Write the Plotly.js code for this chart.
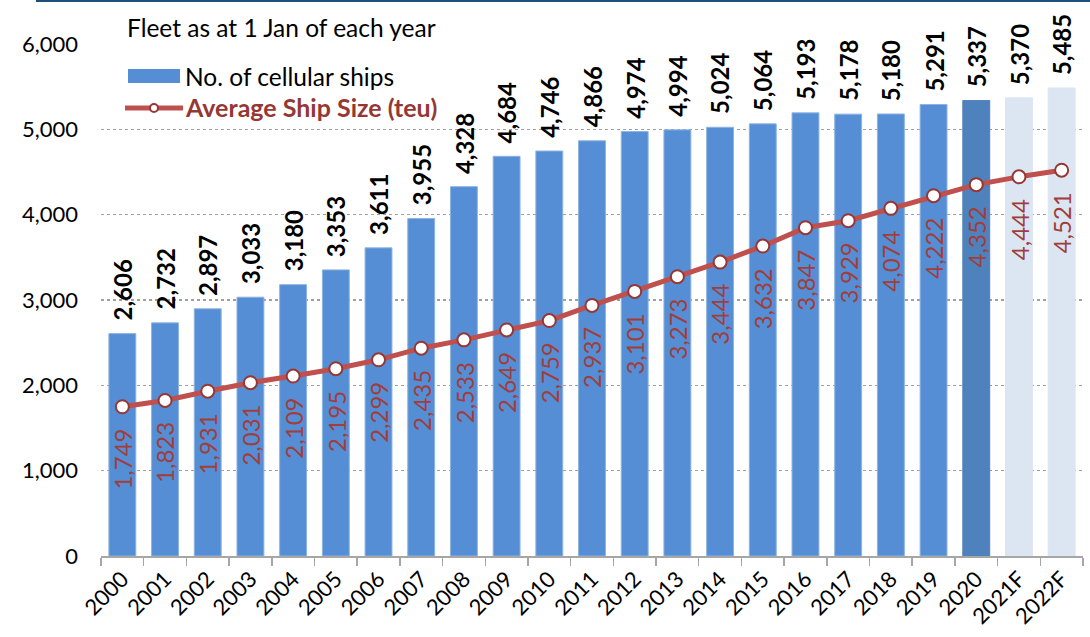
<!DOCTYPE html>
<html>
<head>
<meta charset="utf-8">
<script src="https://cdn.plot.ly/plotly-3.0.1.min.js"></script>
<style>
html,body{margin:0;padding:0;background:#fff;}
#chart{width:1090px;height:637px;}
</style>
</head>
<body>
<div id="chart"></div>
<script>
const years = ["2000","2001","2002","2003","2004","2005","2006","2007","2008","2009","2010","2011","2012","2013","2014","2015","2016","2017","2018","2019","2020","2021F","2022F"];
const ships = [2606,2732,2897,3033,3180,3353,3611,3955,4328,4684,4746,4866,4974,4994,5024,5064,5193,5178,5180,5291,5337,5370,5485];
const avgSize = [1749,1823,1931,2031,2109,2195,2299,2435,2533,2649,2759,2937,3101,3273,3444,3632,3847,3929,4074,4222,4352,4444,4521];
const yTicks = [0,1000,2000,3000,4000,5000,6000];
const yTickLabels = ["0","1,000","2,000","3,000","4,000","5,000","6,000"];
const subtitle = "Fleet as at 1 Jan of each year";
const legendBar = "No. of cellular ships";
const legendLine = "Average Ship Size (teu)";

const FONT = "Lato, 'Open Sans', sans-serif";
const fmt = v => v.toLocaleString('en-US');

const barColors = years.map(y => y.endsWith('F') ? '#DCE6F2' : (y === '2020' ? '#4F81BD' : '#558ED5'));
const barLines = years.map(y => y.endsWith('F') ? '#DCE6F2' : (y === '2020' ? '#4F81BD' : '#8DB4E2'));

const L = 101, R = 1083, T = 44, B = 556;
const px = x => (x - L) / (R - L);
const py = y => (B - y) / (B - T);

const bars = {
  type: 'bar', x: years, y: ships, name: legendBar,
  marker: {color: barColors, line: {color: barLines, width: 1}},
  hoverinfo: 'x+y', showlegend: false
};
const line = {
  type: 'scatter', mode: 'lines+markers', x: years, y: avgSize, name: legendLine,
  line: {color: '#C0504D', width: 5},
  marker: {size: 13, color: '#FFFFFF', line: {color: '#953735', width: 2}},
  showlegend: false, cliponaxis: false
};

const annotations = [];
years.forEach((yr, i) => {
  annotations.push({
    x: i, y: ships[i], xref: 'x', yref: 'y', text: fmt(ships[i]),
    textangle: -90, showarrow: false, yanchor: 'bottom', xanchor: 'center', yshift: 11,
    font: {family: FONT, size: 24, color: '#000000', weight: 'bold'}
  });
  annotations.push({
    x: i, y: avgSize[i], xref: 'x', yref: 'y', text: fmt(avgSize[i]),
    textangle: -90, showarrow: false, yanchor: 'top', xanchor: 'center', yshift: -20,
    font: {family: FONT, size: 24, color: '#A03E3C'}
  });
});
annotations.push({
  xref: 'paper', yref: 'paper', x: px(125), y: py(27), xanchor: 'left', yanchor: 'middle',
  text: subtitle, showarrow: false, font: {family: FONT, size: 24.5, color: '#000000'}
});
annotations.push({
  xref: 'paper', yref: 'paper', x: px(183), y: py(76), xanchor: 'left', yanchor: 'middle',
  text: legendBar, showarrow: false, font: {family: FONT, size: 24.5, color: '#000000'}
});
annotations.push({
  xref: 'paper', yref: 'paper', x: px(183), y: py(107), xanchor: 'left', yanchor: 'middle',
  text: legendLine, showarrow: false, font: {family: FONT, size: 25, color: '#953735', weight: 'bold'}
});

const shapes = [
  {type: 'line', xref: 'paper', yref: 'paper', x0: px(36), x1: px(1092), y0: py(1), y1: py(1),
   line: {color: '#1F4E79', width: 2}},
  {type: 'rect', xref: 'paper', yref: 'paper', x0: px(128), x1: px(180), y0: py(69), y1: py(83),
   fillcolor: '#558ED5', line: {width: 0}},
  {type: 'line', xref: 'paper', yref: 'paper', x0: px(125), x1: px(183), y0: py(108), y1: py(108),
   line: {color: '#C0504D', width: 5}},
  {type: 'circle', xref: 'paper', yref: 'paper', x0: px(150), x1: px(158), y0: py(104), y1: py(112),
   fillcolor: '#FFFFFF', line: {color: '#953735', width: 2}}
];

const layout = {
  width: 1090, height: 637,
  margin: {l: L, r: 1090 - R, t: T, b: 637 - B, pad: 0},
  paper_bgcolor: '#FFFFFF', plot_bgcolor: '#FFFFFF',
  bargap: 0.37,
  showlegend: false,
  font: {family: FONT, size: 20, color: '#000000'},
  xaxis: {
    type: 'category', range: [-0.5, years.length - 0.5], tickangle: -45, showline: true, linecolor: '#A6A6A6', linewidth: 1.5,
    ticks: 'outside', tickson: 'boundaries', ticklen: 8, tickcolor: '#A6A6A6', tickwidth: 1.5,
    showgrid: false, tickfont: {family: FONT, size: 22, color: '#000000'}, fixedrange: true
  },
  yaxis: {
    range: [0, 6000], tickvals: yTicks, ticktext: yTickLabels, showgrid: true,
    gridcolor: '#A0A0A0', griddash: 'dot', gridwidth: 1.5, zeroline: false, showline: false,
    ticks: '', ticklabelstandoff: 22, tickfont: {family: FONT, size: 22, color: '#000000'}, fixedrange: true
  },
  annotations: annotations,
  shapes: shapes
};

Plotly.newPlot('chart', [bars, line], layout, {displayModeBar: false, staticPlot: true});
</script>
</body>
</html>
